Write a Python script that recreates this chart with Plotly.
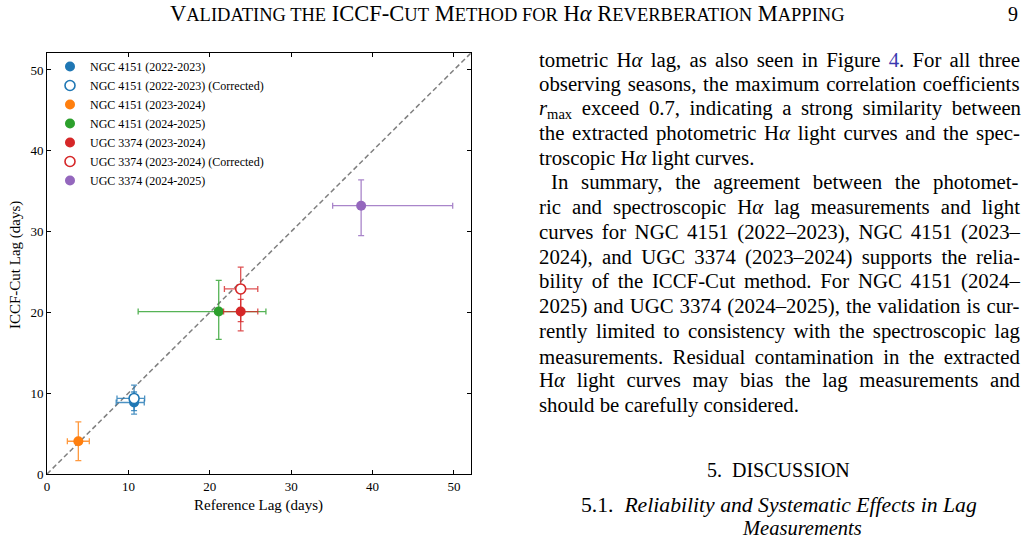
import re
import plotly.graph_objects as go

# ---------------- data ----------------
labels = ["NGC 4151 (2022-2023)", "NGC 4151 (2022-2023) (Corrected)", "NGC 4151 (2023-2024)",
          "NGC 4151 (2024-2025)", "UGC 3374 (2023-2024)", "UGC 3374 (2023-2024) (Corrected)",
          "UGC 3374 (2024-2025)"]
ref_lag = [10.7, 10.7, 3.85, 21.1, 23.8, 23.8, 38.6]
ref_err_lo = [2.2, 2.1, 1.35, 9.9, 2.1, 2.0, 3.5]
ref_err_hi = [1.25, 1.3, 1.35, 5.8, 2.1, 2.1, 11.25]
cut_lag = [8.85, 9.35, 4.05, 20.1, 20.1, 22.9, 33.2]
cut_err_lo = [1.45, 1.5, 2.4, 3.45, 1.25, 5.2, 3.7]
cut_err_hi = [1.3, 1.65, 2.4, 3.85, 1.5, 2.7, 3.2]
colors = ["#1f77b4", "#1f77b4", "#ff7f0e", "#2ca02c", "#d62728", "#d62728", "#9467bd"]
err_colors = ["rgba(31,119,180,0.8)", "rgba(31,119,180,0.8)", "rgba(255,127,14,0.8)",
              "rgba(44,160,44,0.8)", "rgba(214,39,40,0.8)", "rgba(214,39,40,0.8)",
              "rgba(148,103,189,0.8)"]
hollow = [False, True, False, False, False, True, False]
one_to_one = [0, 52.1]
x_ticks = [0, 10, 20, 30, 40, 50]
y_ticks = [0, 10, 20, 30, 40, 50]

body_lines = [
    "tometric H<i>α</i> lag, as also seen in Figure <span style='color:#3a3ab0'>4</span>. For all three",
    "observing seasons, the maximum correlation coefficients",
    "<i>r</i><sub>max</sub> exceed 0.7, indicating a strong similarity between",
    "the extracted photometric H<i>α</i> light curves and the spec-",
    "troscopic H<i>α</i> light curves.",
    "In summary, the agreement between the photomet-",
    "ric and spectroscopic H<i>α</i> lag measurements and light",
    "curves for NGC 4151 (2022–2023), NGC 4151 (2023–",
    "2024), and UGC 3374 (2023–2024) supports the relia-",
    "bility of the ICCF-Cut method. For NGC 4151 (2024–",
    "2025) and UGC 3374 (2024–2025), the validation is cur-",
    "rently limited to consistency with the spectroscopic lag",
    "measurements. Residual contamination in the extracted",
    "H<i>α</i> light curves may bias the lag measurements and",
    "should be carefully considered.",
]
body_y = [60, 84, 109, 133, 158, 182, 207, 232, 257, 281, 306, 331, 356, 380, 405]
body_indent = [False] * 5 + [True] + [False] * 9
body_justify = [True] * 4 + [False] + [True] * 9 + [False]

FONT = "Liberation Serif"
BODY_SIZE = 20.8

# Times / Liberation Serif advance widths (1/1000 em) for line justification
TW = {' ': 250, 'a': 444, 'b': 500, 'c': 444, 'd': 500, 'e': 444, 'f': 333, 'g': 500, 'h': 500,
      'i': 278, 'j': 278, 'k': 500, 'l': 278, 'm': 778, 'n': 500, 'o': 500, 'p': 500, 'q': 500,
      'r': 333, 's': 389, 't': 278, 'u': 500, 'v': 500, 'w': 722, 'x': 500, 'y': 500, 'z': 444,
      'A': 722, 'B': 667, 'C': 667, 'D': 722, 'E': 611, 'F': 556, 'G': 722, 'H': 722, 'I': 333,
      'J': 389, 'K': 722, 'L': 611, 'M': 889, 'N': 722, 'O': 722, 'P': 556, 'Q': 722, 'R': 667,
      'S': 556, 'T': 611, 'U': 722, 'V': 722, 'W': 944, 'X': 722, 'Y': 722, 'Z': 611,
      '(': 333, ')': 333, ',': 250, '.': 250, '-': 333, '–': 500, 'α': 520}


def natural_width(s, size):
    w = 0.0
    spaces = 0
    scale = 1.0
    for tok in re.split(r"(<[^>]+>)", s):
        if tok.startswith("<"):
            if tok == "<sub>":
                scale = 0.7
            elif tok == "</sub>":
                scale = 1.0
            continue
        for ch in tok:
            w += TW.get(ch, 500) / 1000.0 * size * scale
            if ch == " ":
                spaces += 1
    return w, spaces


# ---------------- figure ----------------
fig = go.Figure()

fig.add_trace(go.Scatter(
    x=one_to_one, y=one_to_one, mode="lines",
    line=dict(color="#7f7f7f", width=1.5, dash="5px,3px"),
    showlegend=False, hoverinfo="skip"))

for i, lab in enumerate(labels):
    fig.add_trace(go.Scatter(
        x=[ref_lag[i]], y=[cut_lag[i]], mode="markers", name=lab,
        marker=dict(symbol="circle", size=10,
                    color="white" if hollow[i] else colors[i],
                    line=dict(color=colors[i], width=1.6 if hollow[i] else 0)),
        error_x=dict(type="data", symmetric=False, array=[ref_err_hi[i]],
                     arrayminus=[ref_err_lo[i]], color=err_colors[i], thickness=1.3, width=3),
        error_y=dict(type="data", symmetric=False, array=[cut_err_hi[i]],
                     arrayminus=[cut_err_lo[i]], color=err_colors[i], thickness=1.3, width=3),
    ))

L, R, T, B = 47, 471, 53, 474
W, H = 1026, 542


def px(xp):
    return (xp - L) / (R - L)


def py(yp):
    return (B - yp) / (B - T)


axis_common = dict(
    showline=True, linecolor="black", linewidth=1, mirror="ticks",
    ticks="inside", ticklen=4, tickwidth=1, tickcolor="black",
    showgrid=False, zeroline=False,
    tickfont=dict(family=FONT, size=13, color="black"),
)

fig.update_layout(
    width=W, height=H,
    margin=dict(l=L, r=W - R, t=T, b=H - B, pad=0),
    paper_bgcolor="white", plot_bgcolor="white",
    font=dict(family=FONT, color="black"),
    xaxis=dict(range=[0, 52.1], tickvals=x_ticks, ticktext=[str(v) for v in x_ticks],
               **axis_common),
    yaxis=dict(range=[0, 52.1], tickvals=y_ticks, ticktext=[str(v) for v in y_ticks],
               **axis_common),
    legend=dict(x=px(50), y=py(52), xanchor="left", yanchor="top",
                bgcolor="rgba(0,0,0,0)", borderwidth=0,
                font=dict(family=FONT, size=12, color="black"),
                itemwidth=30, tracegroupgap=0),
    showlegend=True,
)


def A(x, y, text, size, xa="center", ya="middle", **kw):
    d = dict(x=px(x), y=py(y), xref="paper", yref="paper", text=text, showarrow=False,
             xanchor=xa, yanchor=ya, font=dict(family=FONT, size=size, color="black"))
    d.update(kw)
    return d


ann = []
ann.append(A(258, 505, "Reference Lag (days)", 15))
ann.append(A(15, 265, "ICCF-Cut Lag (days)", 15, textangle=-90))

sc = "font-size:18.5px"
header = ("V<span style='%s'>ALIDATING THE</span> ICCF-C<span style='%s'>UT</span> "
          "M<span style='%s'>ETHOD FOR</span> H<i>α</i> R<span style='%s'>EVERBERATION</span> "
          "M<span style='%s'>APPING</span>") % (sc, sc, sc, sc, sc)
ann.append(A(507, 14, header, 22.5))
ann.append(A(1013, 14, "9", 20))

for t, yv, ind, just in zip(body_lines, body_y, body_indent, body_justify):
    x0 = 549 if ind else 537
    txt = t
    if just:
        nat, nsp = natural_width(t, BODY_SIZE)
        ws = (1018 - x0 - nat) / max(nsp, 1)
        txt = "<span style='word-spacing:%.2fpx'>%s</span>" % (ws, t)
    ann.append(A(x0, yv, txt, BODY_SIZE, xa="left"))

ann.append(A(778, 470, "5.  DISCUSSION", 20))
ann.append(A(579, 505, "5.1.  <i>Reliability and Systematic Effects in Lag</i>", 21.7, xa="left"))
ann.append(A(740, 528, "<i>Measurements</i>", 20.5, xa="left"))

fig.update_layout(annotations=ann)

fig.write_html("out.html")
